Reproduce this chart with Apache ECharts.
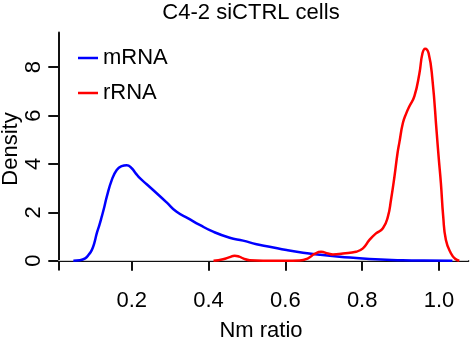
<!DOCTYPE html>
<html>
<head>
<meta charset="utf-8">
<script src="https://cdn.jsdelivr.net/npm/echarts@6/dist/echarts.min.js"></script>
<style>
html,body{margin:0;padding:0;background:#fff;}
#chart{width:472px;height:341px;}
</style>
</head>
<body>
<div id="chart"></div>
<script>
var titleText = "C4-2 siCTRL cells";
var xLabel = "Nm ratio";
var yLabel = "Density";
var seriesNames = ["mRNA", "rRNA"];
var xTicks = [0.2, 0.4, 0.6, 0.8, 1.0];
var yTicks = [0, 2, 4, 6, 8];

var mrnaX = [0.048,0.065,0.079,0.088,0.096,0.103,0.109,0.116,0.122,0.129,0.135,0.148,0.161,0.174,0.187,0.200,0.211,0.222,0.239,0.265,0.291,0.317,0.347,0.377,0.412,0.455,0.490,0.525,0.559,0.603,0.646,0.689,0.741,0.819,0.905,0.960,1.035];
var mrnaY = [0,0.02,0.10,0.25,0.44,0.75,1.13,1.48,1.82,2.24,2.64,3.33,3.75,3.91,3.95,3.82,3.60,3.40,3.16,2.79,2.41,2.02,1.75,1.48,1.20,0.95,0.83,0.68,0.58,0.44,0.33,0.25,0.17,0.07,0.02,0.005,0];

var rrnaX = [0.413,0.438,0.455,0.468,0.480,0.490,0.507,0.542,0.600,0.637,0.659,0.676,0.693,0.711,0.724,0.750,0.784,0.802,0.819,0.836,0.854,0.867,0.875,0.884,0.892,0.897,0.906,0.915,0.923,0.936,0.949,0.957,0.964,0.973,0.983,0.994,0.999,1.005,1.011,1.018,1.031,1.042,1.053];
var rrnaY = [0,0.06,0.15,0.21,0.17,0.10,0.02,0,0,0.01,0.10,0.28,0.37,0.30,0.26,0.30,0.37,0.51,0.86,1.13,1.34,1.82,2.51,3.47,4.44,4.90,5.69,6.10,6.38,6.80,7.74,8.57,8.76,8.57,7.47,5.30,4.30,3.20,1.82,0.86,0.31,0.08,0];

function pairs(xs, ys){ return xs.map(function(x,i){ return [x, ys[i]]; }); }

var FONT = "'Liberation Sans', Arial, Helvetica, sans-serif";
var chart = echarts.init(document.getElementById('chart'), null, {renderer:'canvas'});
chart.setOption({
  animation:false,
  backgroundColor:'#fff',
  textStyle:{fontFamily:FONT},
  grid:{left:58.3, right:3.7, top:32.5, bottom:71.3, containLabel:false},
  xAxis:{
    type:'value', min:0.0089, max:1.0763,
    axisLine:{show:true, lineStyle:{color:'#111', width:2}},
    axisTick:{show:true, length:10, customValues:xTicks, lineStyle:{color:'#111', width:2}},
    axisLabel:{customValues:xTicks, formatter:function(v){return v.toFixed(1);}, color:'#000', fontSize:22, fontFamily:FONT, margin:20},
    splitLine:{show:false}
  },
  yAxis:{
    type:'value', min:-0.37, max:9.43,
    axisLine:{show:true, lineStyle:{color:'#111', width:2}},
    axisTick:{show:true, length:10, customValues:yTicks, lineStyle:{color:'#111', width:2}},
    axisLabel:{customValues:yTicks, rotate:90, color:'#000', fontSize:22, fontFamily:FONT, margin:13},
    splitLine:{show:false}
  },
  legend:{
    orient:'vertical', left:73, top:42, itemWidth:20, itemHeight:2.5, itemGap:13,
    icon:'rect',
    textStyle:{fontSize:22, fontFamily:FONT, color:'#000'},
    data:seriesNames
  },
  graphic:[
    {type:'text', style:{text:titleText, font:'22px '+FONT, fill:'#000', textAlign:'center', textVerticalAlign:'middle'}, x:251, y:13},
    {type:'text', style:{text:xLabel, font:'22px '+FONT, fill:'#000', textAlign:'center', textVerticalAlign:'middle'}, x:261, y:331},
    {type:'text', style:{text:yLabel, font:'22px '+FONT, fill:'#000', textAlign:'center', textVerticalAlign:'middle'}, x:11, y:149, rotation:Math.PI/2}
  ],
  series:[
    {name:seriesNames[0], type:'line', data:pairs(mrnaX, mrnaY), showSymbol:false, smooth:0.5,
     lineStyle:{color:'#0000ff', width:2.5}, itemStyle:{color:'#0000ff'}, z:2,
     markLine:{silent:true, symbol:'none', label:{show:false}, lineStyle:{color:'#cccccc', width:1, type:'solid'}, data:[{yAxis:0}], z:1}},
    {name:seriesNames[1], type:'line', data:pairs(rrnaX, rrnaY), showSymbol:false, smooth:0.5,
     lineStyle:{color:'#ff0000', width:2.5}, itemStyle:{color:'#ff0000'}, z:3}
  ]
});
</script>
</body>
</html>
